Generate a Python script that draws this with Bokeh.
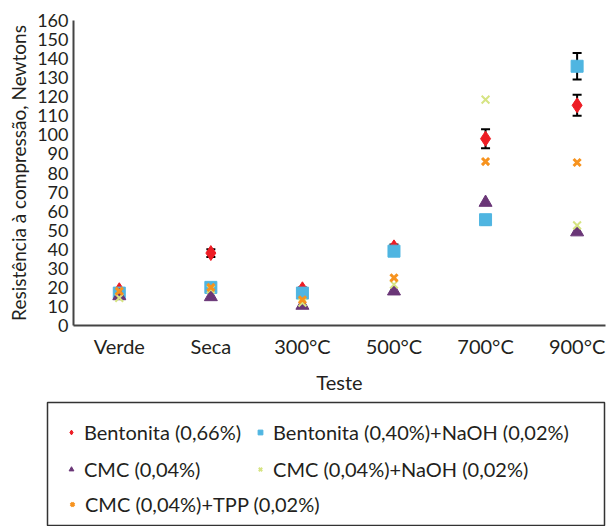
from bokeh.plotting import figure
from bokeh.layouts import column
from bokeh.models import (ColumnDataSource, Legend, LegendItem, FixedTicker,
                          Whisker, TeeHead)
from bokeh.embed import file_html
from bokeh.resources import INLINE

# ---- data ----
categories = ["Verde", "Seca", "300°C", "500°C", "700°C", "900°C"]
bent066 = [18.5, 38, 19, 41, 98, 115.5]
bent066_err = [1, 2, 1, 1.5, 5, 5.5]
bent040_naoh = [17, 20, 17, 39, 55.5, 136]
bent040_naoh_err = [1, 1, 1, 1.5, 2.5, 7]
cmc = [15.5, 15, 10.5, 18, 64.5, 49]
cmc_naoh = [14.5, 19, 12, 21.5, 118.5, 52.5]
cmc_tpp = [18, 20, 13.5, 25, 86, 85.5]
y_ticks = list(range(0, 161, 10))
labels = ["Bentonita (0,66%)", "Bentonita (0,40%)+NaOH (0,02%)", "CMC (0,04%)",
          "CMC (0,04%)+NaOH (0,02%)", "CMC (0,04%)+TPP (0,02%)"]

FONT = "Lato"
TXT = "#231f20"
RED, BLUE, PURPLE, YELLOW, ORANGE = "#ed1c24", "#4fb5e1", "#6a3677", "#d6e483", "#f7931e"

x = list(range(len(categories)))
series = [bent066, bent040_naoh, cmc, cmc_naoh, cmc_tpp]

p = figure(width=608, height=398, output_backend="svg", toolbar_location=None,
           x_range=(-0.5, 5.31), y_range=(0, 160),
           min_border_left=73, min_border_top=20, min_border_right=3,
           min_border_bottom=73)
p.grid.visible = False
p.outline_line_color = None

def upper(v, e):
    return [a + b for a, b in zip(v, e)]

def lower(v, e):
    return [a - b for a, b in zip(v, e)]

src_b1 = ColumnDataSource(dict(x=x, y=bent066, up=upper(bent066, bent066_err), lo=lower(bent066, bent066_err)))
src_b2 = ColumnDataSource(dict(x=x, y=bent040_naoh, up=upper(bent040_naoh, bent040_naoh_err), lo=lower(bent040_naoh, bent040_naoh_err)))

for src in (src_b1, src_b2):
    w = Whisker(source=src, base="x", upper="up", lower="lo", line_color="black", line_width=2,
                level="underlay",
                upper_head=TeeHead(size=9, line_color="black", line_width=2),
                lower_head=TeeHead(size=9, line_color="black", line_width=2))
    p.add_layout(w)

def draw(fig, xs, ys):
    r1 = fig.scatter(xs, ys[0], marker="diamond", size=15, fill_color=RED, line_color=RED)
    r2 = fig.scatter(xs, ys[1], marker="square", size=12, fill_color=BLUE, line_color=BLUE)
    r3 = fig.scatter(xs, ys[2], marker="triangle", size=13, fill_color=PURPLE, line_color=PURPLE)
    r4 = fig.scatter(xs, ys[3], marker="x", size=11, line_color=YELLOW, line_width=2)
    r5 = fig.scatter(xs, ys[4], marker="x", size=10, line_color=ORANGE, line_width=3)
    return [r1, r2, r3, r4, r5]

draw(p, x, series)

# axes
p.yaxis.ticker = FixedTicker(ticks=y_ticks)
p.xaxis.ticker = FixedTicker(ticks=x)
p.xaxis.major_label_overrides = {i: c for i, c in enumerate(categories)}
for ax in (p.xaxis[0], p.yaxis[0]):
    ax.axis_line_color = "#444444"
    ax.axis_line_width = 2
    ax.major_tick_line_color = None
    ax.minor_tick_line_color = None
    ax.major_tick_out = 0
    ax.major_tick_in = 0
    ax.minor_tick_out = 0
    ax.major_label_text_font = FONT
    ax.major_label_text_color = TXT
    ax.axis_label_text_font = FONT
    ax.axis_label_text_color = TXT
    ax.axis_label_text_font_style = "normal"
p.yaxis.major_label_text_font_size = "18px"
p.yaxis.major_label_standoff = 5
p.yaxis.axis_label = "Resistência à compressão, Newtons"
p.yaxis.axis_label_text_font_size = "19px"
p.yaxis.axis_label_standoff = 4
p.xaxis.major_label_text_font_size = "20px"
p.xaxis.major_label_standoff = 8
p.xaxis.axis_label = "Teste"
p.xaxis.axis_label_text_font_size = "20px"
p.xaxis.axis_label_standoff = 9

# ---- legend panel (data drawn outside its view, only the legend shows) ----
q = figure(width=608, height=128, output_backend="svg", toolbar_location=None,
           x_range=(100, 101), y_range=(1000, 1001), x_axis_location=None, y_axis_location=None,
           min_border_left=47, min_border_top=4, min_border_right=4, min_border_bottom=0)
q.grid.visible = False
q.outline_line_color = "#333333"
q.outline_line_width = 1.5
lr = draw(q, x, series)

for fig in (p, q):
    if "frame_align" in fig.properties():
        fig.frame_align = False

def style(lg):
    lg.label_text_font = FONT
    lg.label_text_font_size = "20px"
    lg.label_text_color = TXT
    lg.border_line_color = None
    lg.background_fill_alpha = 0
    lg.glyph_width = 12
    lg.glyph_height = 12
    lg.label_standoff = 7
    lg.spacing = 13
    lg.padding = 0

leg_a = Legend(items=[LegendItem(label=labels[i], renderers=[lr[i]]) for i in range(4)],
               orientation="horizontal", ncols=2, location="top_left")
style(leg_a)
leg_a.margin = 18
leg_b = Legend(items=[LegendItem(label=labels[4], renderers=[lr[4]])],
               orientation="horizontal", location=(19, 10))
style(leg_b)
leg_b.margin = 0
q.add_layout(leg_a)
q.add_layout(leg_b)

layout = column(p, q, spacing=0)
open("out.html", "w").write(file_html(layout, INLINE))
